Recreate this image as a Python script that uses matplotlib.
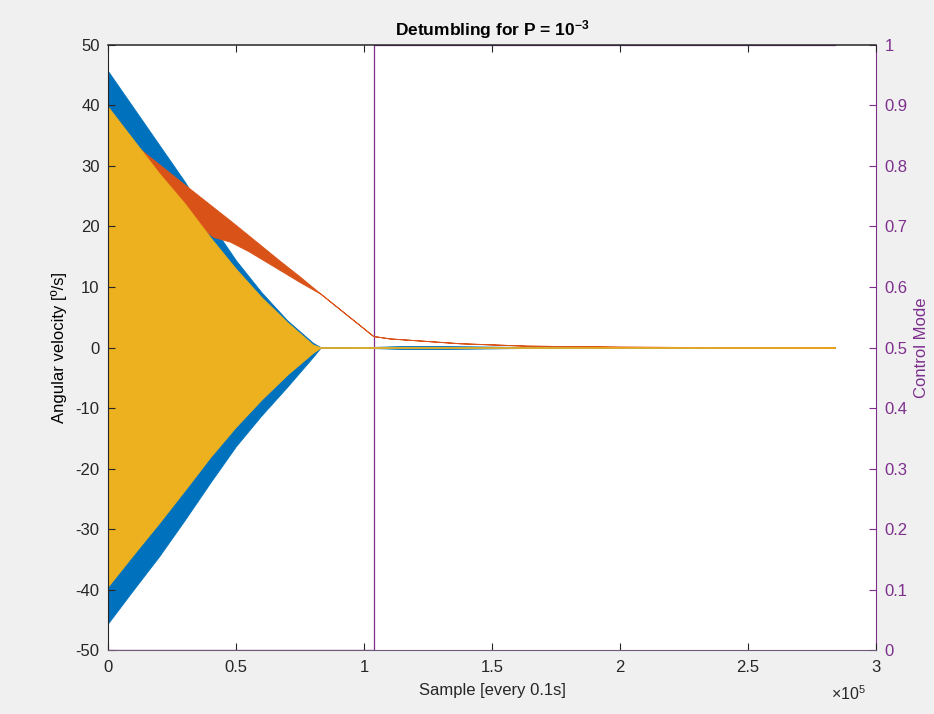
import matplotlib
matplotlib.use("Agg")
import matplotlib.pyplot as plt
from matplotlib.ticker import FuncFormatter, MultipleLocator

plt.rcParams['font.family'] = ['Liberation Sans', 'DejaVu Sans']
plt.rcParams['mathtext.fontset'] = 'custom'
plt.rcParams['mathtext.rm'] = 'Liberation Sans'
plt.rcParams['mathtext.bf'] = 'Liberation Sans:bold'
plt.rcParams['axes.unicode_minus'] = False

# envelopes of the dense oscillating rate signals
# (x in samples, values in deg/s)
wx_x = [0, 10000, 20000, 30000, 40000, 50000, 60000, 70000, 80000, 83000,
        104000, 115000, 130000, 150000, 170000, 284000]
wx_hi = [45.7, 39.6, 33.5, 27.4, 20.6, 14.4, 9.1, 4.5, 0.8, 0.05,
         0.1, 0.25, 0.25, 0.15, 0.05, 0.0]
wx_lo = [-45.6, -40.0, -34.5, -28.5, -22.3, -16.3, -11.2, -6.5, -1.6, -0.05,
         -0.1, -0.25, -0.25, -0.15, -0.05, 0.0]

wy_x = [0, 13100, 30000, 41100, 47700, 55000, 67200, 75000, 83000, 103600, 110000,
        137500, 163600, 200000, 240000, 284000]
wy_hi = [36.0, 32.6, 26.9, 23.2, 21.0, 18.5, 14.3, 11.7, 8.9, 1.9, 1.5,
         0.7, 0.3, 0.13, 0.05, 0.0]
wy_lo = [34.0, 31.0, 22.0, 18.3, 17.5, 15.9, 12.8, 10.8, 8.9, 1.9, 1.5,
         0.7, 0.3, 0.13, 0.05, 0.0]

wz_x = [0, 10000, 20000, 30000, 40000, 50000, 60000, 70000, 80000, 83000,
        104000, 140000, 284000]
wz_hi = [39.8, 34.3, 28.8, 23.8, 18.2, 13.0, 8.3, 4.2, 0.5, 0.03,
         0.06, 0.06, 0.0]
wz_lo = [-39.5, -34.2, -29.0, -23.6, -18.1, -13.1, -8.6, -4.5, -0.9, -0.03,
         -0.06, -0.06, 0.0]

# control mode (right axis)
mode_x = [0, 103900, 103900, 284000]
mode_y = [0, 0, 1, 1]

blue = '#0072BD'
orange = '#D95319'
yellow = '#EDB120'
purple = '#7E2F8E'
axcol = '#262626'

fig = plt.figure(figsize=(9.34, 7.14), dpi=100, facecolor='#F0F0F0')
ax = fig.add_axes([0.1156, 0.0896, 0.8223, 0.8474])

ax.fill_between(wx_x, wx_lo, wx_hi, color=blue, linewidth=0.6, edgecolor=blue)
ax.fill_between(wy_x, wy_lo, wy_hi, color=orange, linewidth=0.7, edgecolor=orange)
ax.fill_between(wz_x, wz_lo, wz_hi, color=yellow, linewidth=0.6, edgecolor=yellow)

ax.set_xlim(0, 300000)
ax.set_ylim(-50, 50)
ax.xaxis.set_major_locator(MultipleLocator(50000))
ax.xaxis.set_major_formatter(FuncFormatter(lambda v, p: f'{v / 1e5:g}'))
ax.yaxis.set_major_locator(MultipleLocator(10))
ax.tick_params(axis='both', direction='in', length=5, width=0.8, colors=axcol,
               labelsize=12, top=True)
ax.tick_params(axis='x', pad=7)
ax.tick_params(axis='y', right=False, pad=6)
for s in ['left', 'top']:
    ax.spines[s].set_color(axcol)
ax.spines['top'].set_linewidth(1.1)
ax.spines['bottom'].set_color('#6f5a78')
ax.spines['right'].set_visible(False)

ax.set_xlabel('Sample [every 0.1s]', fontsize=12, color=axcol, labelpad=6)
ax.set_ylabel('Angular velocity [º/s]', fontsize=12, color='black', labelpad=6)
ax.set_title(r'Detumbling for P = $\mathbf{10^{-3}}$', fontsize=12.5,
             fontweight='bold', color='black', pad=7)
ax.text(0.987, -0.072, r'$\times10^5$', transform=ax.transAxes, ha='right', va='center',
        fontsize=11.5, color=axcol)

ax2 = ax.twinx()
ax2.plot(mode_x, mode_y, color=purple, linewidth=0.9)
ax2.set_ylim(0, 1)
ax2.yaxis.set_major_locator(MultipleLocator(0.1))
ax2.yaxis.set_major_formatter(FuncFormatter(lambda v, p: f'{v:g}'))
ax2.tick_params(axis='y', direction='in', length=5, width=0.8, colors=purple,
                labelsize=12, pad=6)
ax2.spines['right'].set_color(purple)
for s in ['left', 'top', 'bottom']:
    ax2.spines[s].set_visible(False)
ax2.set_ylabel('Control Mode', fontsize=12, color=purple, labelpad=5)

# keep the left axes (and its box) above the mode line
ax2.patch.set_visible(True)
ax2.patch.set_facecolor('white')
ax.set_zorder(ax2.get_zorder() + 1)
ax.patch.set_visible(False)

fig.savefig('out.png', dpi=100, facecolor=fig.get_facecolor())
